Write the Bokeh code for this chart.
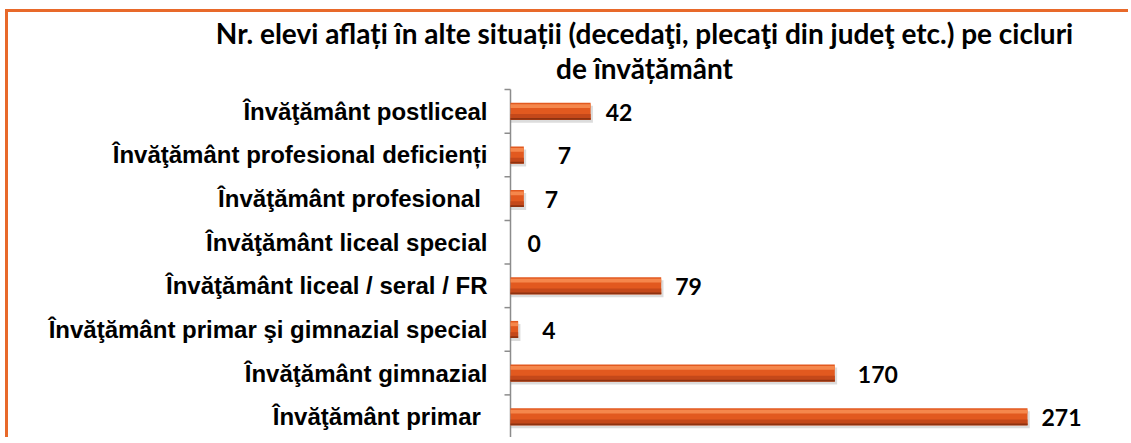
from bokeh.plotting import figure
from bokeh.models import ColumnDataSource
from bokeh.core.properties import value
from bokeh.embed import file_html
from bokeh.resources import INLINE

# ---- data (bottom to top) ----
categories = [
    "Învăţământ primar ",
    "Învăţământ gimnazial",
    "Învăţământ primar şi gimnazial special",
    "Învăţământ liceal / seral / FR",
    "Învăţământ liceal special",
    "Învăţământ profesional ",
    "Învăţământ profesional deficienți",
    "Învăţământ postliceal",
]
values = [271, 170, 4, 79, 0, 7, 7, 42]
title_lines = [
    "Nr. elevi aflați în alte situații (decedaţi, plecaţi din judeţ etc.) pe cicluri",
    "de învățământ",
]
# label gaps (px) from bar end, as placed in the original
label_gaps = [14, 23, 24, 14, 17, 21, 34, 15]

ORANGE = "#E2591F"
BORDER = "#E8692A"
AXIS = "#8C8C8C"

# ---- layout (page px) ----
ORG_X, ORG_Y = 8, 12          # canvas origin on page (after margin + border)
W, H = 1123, 428
AXIS_X = 510                  # page x of value 0
CAT_TOP, CAT_BOT = 89, 438    # page y of category block
n = len(categories)
px_x = 517 / 271.0
px_y = (CAT_BOT - CAT_TOP) / n

x_start = -(AXIS_X - ORG_X) / px_x
x_end = x_start + W / px_x
y_start = -((ORG_Y + H) - CAT_BOT) / px_y
y_end = n + (CAT_TOP - ORG_Y) / px_y

ys = [i + 0.5 for i in range(n)]
src = ColumnDataSource(dict(y=ys, v=values, txt=[str(v) for v in values], gap=label_gaps))

p = figure(width=W, height=H, x_range=(x_start, x_end), y_range=(y_start, y_end),
           output_backend="svg", toolbar_location=None)
p.styles = {"border-top": f"3px solid {BORDER}", "border-left": f"3px solid {BORDER}",
            "margin-left": "5px", "margin-top": "9px"}
p.min_border_left = 0
p.min_border_right = 0
p.min_border_top = 0
p.min_border_bottom = 0
p.outline_line_color = None
p.xgrid.visible = False
p.ygrid.visible = False
p.xaxis.visible = False
p.yaxis.visible = False
p.background_fill_color = "white"
p.border_fill_color = "white"

# category labels (right-aligned left of the axis)
cat_x = -(AXIS_X - 487) / px_x
p.text(x=[cat_x] * n, y=ys, text=categories, text_align="right", text_baseline="middle",
       text_font=value("Liberation Sans"), text_font_style="bold", text_font_size="24px",
       text_color="black")

# category axis line and boundary ticks (drawn at value 0)
bounds = list(range(n + 1))
tick_len = 6 / px_x
p.segment(x0=[0], y0=[0], x1=[0], y1=[n], line_color=AXIS, line_width=1.5)
p.segment(x0=[-tick_len] * len(bounds), y0=bounds, x1=[0] * len(bounds), y1=bounds,
          line_color=AXIS, line_width=1.5)

bh = 0.39
# shadow
shadow = ColumnDataSource(dict(y=[y - 0.07 for y in ys],
                               v=[v + 1.2 if v > 0 else 0 for v in values]))
p.hbar(y="y", left=0, right="v", height=bh, source=shadow, fill_color="#8A8A8A",
       fill_alpha=0.3, line_color=None)
# main body
p.hbar(y="y", left=0, right="v", height=bh, source=src, fill_color=ORANGE, line_color=None)
# darker lower band
low = ColumnDataSource(dict(y=[y - bh * 0.33 for y in ys], v=values))
p.hbar(y="y", left=0, right="v", height=bh * 0.34, source=low, fill_color="#C4481A", line_color=None)
bottom = ColumnDataSource(dict(y=[y - bh * 0.45 for y in ys], v=values))
p.hbar(y="y", left=0, right="v", height=bh * 0.1, source=bottom, fill_color="#8E3210", line_color=None)
# highlight upper band
hi = ColumnDataSource(dict(y=[y + bh * 0.3 for y in ys], v=values))
p.hbar(y="y", left=0, right="v", height=bh * 0.22, source=hi, fill_color="#F5874C", line_color=None)

# value labels
p.text(x="v", y="y", text="txt", source=src, x_offset="gap", y_offset=1,
       text_font=value("Lato"), text_font_style="bold", text_font_size="23px",
       text_baseline="middle", text_align="left", text_color="black")

# title (two centred lines above the category block)
title_x = (644 - AXIS_X) / px_x
title_y = [n + (CAT_TOP - 32) / px_y, n + (CAT_TOP - 67) / px_y]
p.text(x=[title_x] * 2, y=title_y, text=title_lines, text_align="center",
       text_baseline="middle", text_font=value("Lato"), text_font_style="bold",
       text_font_size="28px", text_color="black")

open("out.html", "w").write(file_html(p, INLINE))
